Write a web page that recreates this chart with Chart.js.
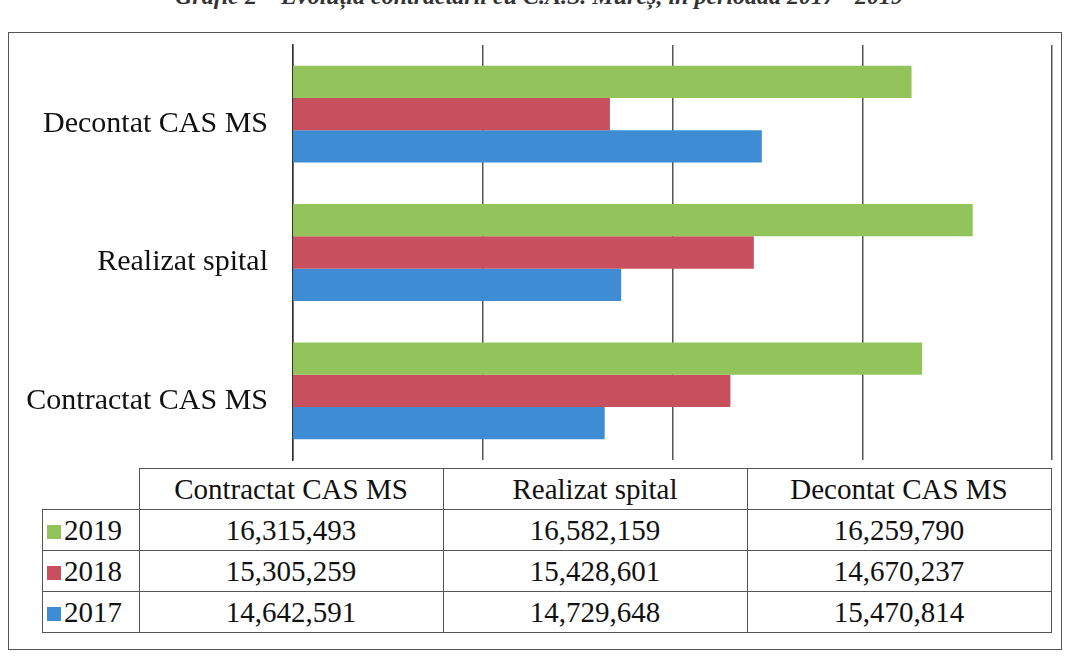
<!DOCTYPE html>
<html>
<head>
<meta charset="utf-8">
<script src="https://cdn.jsdelivr.net/npm/chart.js@4/dist/chart.umd.min.js"></script>
<style>
    body { margin: 0; background: #fff; width: 1071px; height: 662px; overflow: hidden; position: relative; font-family: "Liberation Serif", "DejaVu Serif", serif; }
    #title { position: absolute; left: 175px; top: -17px; white-space: nowrap; font-size: 24px; font-style: italic; font-weight: bold; color: #333; }
    #frame { position: absolute; left: 8px; top: 32px; width: 1054px; height: 618px; border: 1.5px solid #555; box-sizing: border-box; }
    #barChart { position: absolute; left: 10px; top: 40px; }
    #dataTable { position: absolute; left: 42px; top: 468px; border-collapse: collapse; font-size: 29px; color: #111; }
    #dataTable td { border: 1.5px solid #555; height: 40px; padding: 0; text-align: center; line-height: 38px; }
    #dataTable td.blank { border: none; border-bottom: 1.5px solid #555; border-right: 1.5px solid #555; }
    #dataTable td.year { text-align: left; padding-left: 4px; }
    .sw { display: inline-block; width: 14px; height: 14px; margin-right: 3px; vertical-align: 1px; }
</style>
</head>
<body>
<div id="title">Grafic 2 – Evoluția contractării cu C.A.S. Mureș, în perioada 2017 - 2019</div>
<div id="frame"></div>
<canvas id="barChart" width="1050" height="422"></canvas>
<table id="dataTable"></table>
<script>
// categorii, in ordinea din tabel
const categories = ['Contractat CAS MS', 'Realizat spital', 'Decontat CAS MS'];
const years = ['2019', '2018', '2017'];
const values2019 = [16315493, 16582159, 16259790];
const values2018 = [15305259, 15428601, 14670237];
const values2017 = [14642591, 14729648, 15470814];
const colors = ['#93c35b', '#c8505e', '#3d8cd4'];
const xTicks = [13000000, 14000000, 15000000, 16000000, 17000000];

const seriesValues = [values2019, values2018, values2017];

// in grafic prima categorie e jos, deci inversam
const chartLabels = categories.slice().reverse();
const datasets = years.map(function (year, i) {
    return {
        label: year,
        data: seriesValues[i].slice().reverse(),
        backgroundColor: colors[i],
        borderWidth: 0
    };
});

const config = {
    type: 'bar',
    data: { labels: chartLabels, datasets: datasets },
    options: {
        indexAxis: 'y',
        responsive: false,
        animation: false,
        layout: { padding: { top: 5, right: 8, bottom: 2, left: 0 } },
        datasets: { bar: { categoryPercentage: 0.7, barPercentage: 1.0 } },
        plugins: {
            legend: { display: false },
            tooltip: { enabled: false }
        },
        scales: {
            x: {
                min: xTicks[0],
                max: xTicks[xTicks.length - 1],
                afterBuildTicks: function (axis) {
                    axis.ticks = xTicks.map(function (v) { return { value: v }; });
                },
                afterFit: function (axis) {
                    axis.height = 0;
                    axis.paddingLeft = 0;
                    axis.paddingRight = 0;
                },
                ticks: { display: false },
                grid: { color: '#555', lineWidth: 1.5, drawTicks: false },
                border: { display: false }
            },
            y: {
                afterFit: function (axis) {
                    axis.width = 283;
                    axis.paddingTop = 0;
                    axis.paddingBottom = 0;
                },
                ticks: {
                    color: '#111',
                    padding: 25,
                    labelOffset: 10,
                    font: { family: '"Liberation Serif", serif', size: 30 }
                },
                grid: { display: false, drawTicks: false },
                border: { display: true, color: '#333', width: 1.5 }
            }
        }
    }
};

new Chart(document.getElementById('barChart'), config);

// tabelul de date de sub grafic
const $table = document.getElementById('dataTable');
let html = '<tr><td class="blank" style="width:96px"></td>';
categories.forEach(function (cat) {
    html += `<td style="width:303px">${cat}</td>`;
});
html += '</tr>';
years.forEach(function (year, i) {
    html += `<tr><td class="year"><span class="sw" style="background:${colors[i]}"></span>${year}</td>`;
    seriesValues[i].forEach(function (v) {
        html += `<td>${v.toLocaleString('en-US')}</td>`;
    });
    html += '</tr>';
});
$table.innerHTML = html;
</script>
</body>
</html>
